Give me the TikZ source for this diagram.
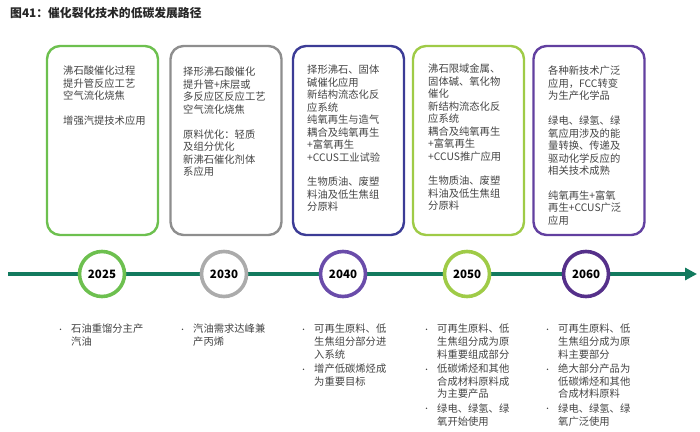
\documentclass[tikz,border=0pt]{standalone}
\usepackage{fontspec}
\usepackage{xcolor}
\usetikzlibrary{arrows.meta}
\setmainfont{Noto Sans CJK SC}
\newfontfamily\cjk{Noto Sans CJK SC}

\definecolor{lvA}{HTML}{6DC04F}
\definecolor{huiB}{HTML}{8E8E8E}
\definecolor{lanC}{HTML}{3C3C96}
\definecolor{lvD}{HTML}{9FCB47}
\definecolor{ziE}{HTML}{6240A0}
\definecolor{quanB}{HTML}{ABABAB}
\definecolor{quanC}{HTML}{6A4CAA}
\definecolor{quanE}{HTML}{55308A}
\definecolor{zhou}{HTML}{127A5E}
\definecolor{wenzi}{HTML}{444444}

\tikzset{
  kuang/.style={draw=#1, line width=2.4pt, rounded corners=13pt, minimum width=111pt, minimum height=189pt},
  nian/.style={circle, draw=#1, line width=3.6pt, fill=white, minimum size=45pt, inner sep=0pt,
    font=\cjk\fontsize{11.5pt}{12pt}\selectfont\bfseries, text=black},
  neirong/.style={anchor=north west, align=left, inner sep=0pt, text=wenzi,
    font=\cjk\fontsize{10.3pt}{12.45pt}\selectfont},
  tiao/.style={anchor=north west, align=left, inner sep=0pt, text=wenzi,
    font=\cjk\fontsize{10.3pt}{12.6pt}\selectfont}
}
\newcommand{\dian}{\makebox[14pt][l]{\raisebox{0.5pt}{\scriptsize•}}}
\newcommand{\suo}{\hspace*{14pt}}

\begin{document}
\begin{tikzpicture}[x=1pt,y=-1pt]
    \useasboundingbox (0,0) rectangle (700,431);

    % title
    \node[anchor=west, inner sep=0pt, font=\cjk\fontsize{11.8pt}{13pt}\selectfont\bfseries, text=black!85]
        (biaoti) at (10,13) {图41：催化裂化技术的低碳发展路径};

    % boxes on top
    \node[kuang=lvA] (k1) at (102.5,140.5) {};
    \node[kuang=huiB] (k2) at (226,140.5) {};
    \node[kuang=lanC] (k3) at (348.5,140.5) {};
    \node[kuang=lvD] (k4) at (468.5,140.5) {};
    \node[kuang=ziE] (k5) at (589,140.5) {};

    \node[neirong] (t1) at (63,66) {沸石酸催化过程\\提升管反应工艺\\空气流化烧焦\\[12.45pt]增强汽提技术应用};
    \node[neirong] (t2) at (183,67) {择形沸石酸催化\\提升管+床层或\\多反应区反应工艺\\空气流化烧焦\\[12.45pt]原料优化：轻质\\及组分优化\\新沸石催化剂体\\系应用};
    \node[neirong] (t3) at (307,65) {择形沸石、固体\\碱催化应用\\新结构流态化反\\应系统\\纯氧再生与造气\\耦合及纯氧再生\\+富氧再生\\+CCUS工业试验\\[12.45pt]生物质油、废塑\\料油及低生焦组\\分原料};
    \node[neirong] (t4) at (428,64) {沸石限域金属、\\固体碱、氧化物\\催化\\新结构流态化反\\应系统\\耦合及纯氧再生\\+富氧再生\\+CCUS推广应用\\[12.45pt]生物质油、废塑\\料油及低生焦组\\分原料};
    \node[neirong] (t5) at (548,66) {各种新技术广泛\\应用，FCC转变\\为生产化学品\\[12.45pt]绿电、绿氢、绿\\氧应用涉及的能\\量转换、传递及\\驱动化学反应的\\相关技术成熟\\[12.45pt]纯氧再生+富氧\\再生+CCUS广泛\\应用};

    % timeline
    \coordinate (qi) at (8,274);
    \coordinate (zhong) at (697,274);
    \draw[zhou, line width=4pt, -{Triangle[length=12pt,width=12pt]}] (qi) -- (zhong);

    \node[nian=lvA] (n2025) at (102,274) {2025};
    \node[nian=quanB] (n2030) at (224,274) {2030};
    \node[nian=quanC] (n2040) at (343,274) {2040};
    \node[nian=lvD] (n2050) at (467,274) {2050};
    \node[nian=quanE] (n2060) at (586,274) {2060};

    % bullets below
    \node[tiao] (b1) at (57,324) {\dian 石油重馏分主产\\\suo 汽油};
    \node[tiao] (b2) at (179,324) {\dian 汽油需求达峰兼\\\suo 产丙烯};
    \node[tiao] (b3) at (300,324) {\dian 可再生原料、低\\\suo 生焦组分部分进\\\suo 入系统\\[2pt]\dian 增产低碳烯烃成\\\suo 为重要目标};
    \node[tiao] (b4) at (423,324) {\dian 可再生原料、低\\\suo 生焦组分成为原\\\suo 料重要组成部分\\[2pt]\dian 低碳烯烃和其他\\\suo 合成材料原料成\\\suo 为主要产品\\[2pt]\dian 绿电、绿氢、绿\\\suo 氧开始使用};
    \node[tiao] (b5) at (544,324) {\dian 可再生原料、低\\\suo 生焦组分成为原\\\suo 料主要部分\\[2pt]\dian 绝大部分产品为\\\suo 低碳烯烃和其他\\\suo 合成材料原料\\[2pt]\dian 绿电、绿氢、绿\\\suo 氧广泛使用};
\end{tikzpicture}
\end{document}
